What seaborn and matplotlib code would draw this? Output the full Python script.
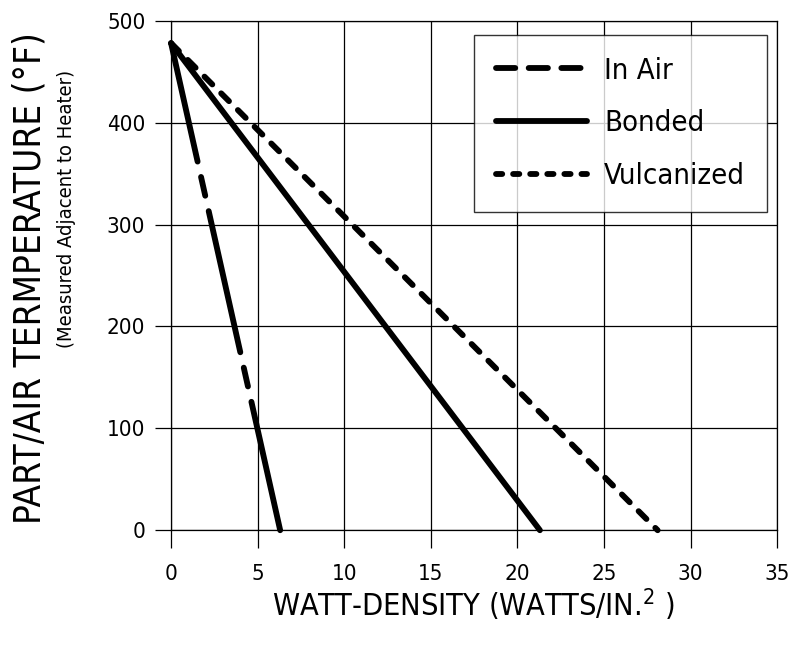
import pandas as pd
import seaborn as sns
import matplotlib.pyplot as plt

# data
series = ["In Air", "Bonded", "Vulcanized"]
start_temp = [478, 478, 478]
zero_watt = [6.3, 21.3, 28.1]
x_ticks = [0, 5, 10, 15, 20, 25, 30, 35]
y_ticks = [0, 100, 200, 300, 400, 500]

rows = []
for name, t0, w in zip(series, start_temp, zero_watt):
    rows.append({"series": name, "watt": 0, "temp": t0})
    rows.append({"series": name, "watt": w, "temp": 0})
df = pd.DataFrame(rows)

sns.set_style("white")
plt.rcParams['font.family'] = ['DejaVu Sans']
plt.rcParams['font.stretch'] = 'condensed'
plt.rcParams['text.color'] = 'black'
plt.rcParams['axes.labelcolor'] = 'black'
plt.rcParams['xtick.color'] = 'black'
plt.rcParams['ytick.color'] = 'black'

fig = plt.figure(figsize=(8.07, 6.49), dpi=100)
ax = fig.add_axes([0.212, 0.183, 0.751, 0.785])

LW = 4.2
dash_map = {"In Air": (24.8, 2.7, 3.3, 2.7), "Bonded": "", "Vulcanized": (1.9, 2.15)}
sns.lineplot(data=df, x="watt", y="temp", hue="series", style="series",
             palette=["black"] * 3, dashes=dash_map, linewidth=LW,
             ax=ax, legend=True)
for ln in ax.get_lines():
    ln.set_dash_capstyle("round")
    ln.set_solid_capstyle("round")
    ln.set_clip_on(False)
ax.get_lines()[0].set_linestyle((4, (24.8, 2.7, 3.3, 2.7)))

ax.set_xlim(0, 35)
ax.set_ylim(0, 500)
ax.set_xticks(x_ticks)
ax.set_yticks(y_ticks)
ax.grid(True, color="black", linewidth=0.9)
# grid lines on the edges get half clipped, so draw the frame as spines
for s in ax.spines.values():
    s.set_visible(True)
    s.set_color("black")
    s.set_linewidth(0.9)
ax.set_axisbelow(True)
ax.tick_params(axis="both", bottom=True, left=True, width=0.9,
               color="black", labelcolor="black", labelsize=16, direction="out")
ax.tick_params(axis="x", length=13, pad=11)
ax.tick_params(axis="y", length=11.5, pad=7)

ax.set_xlabel("")
ax.set_ylabel("")
fig.text(0.586, 0.068, "WATT-DENSITY (WATTS/IN.$^{\\mathregular{2}}$ )", fontsize=22,
         ha="center", va="center")
fig.text(0.037, 0.572, "PART/AIR TERMPERATURE (°F)", rotation=90,
         fontsize=26.5, ha="center", va="center")
fig.text(0.083, 0.678, "(Measured Adjacent to Heater)", rotation=90,
         fontsize=14.5, ha="center", va="center")

handles, labels = ax.get_legend_handles_labels()
leg = ax.legend(handles, labels, loc="upper right", bbox_to_anchor=(0.9835, 0.9725),
                borderaxespad=0, fontsize=21, frameon=True, fancybox=False,
                handlelength=3.1, handletextpad=0.6, labelspacing=0.85, borderpad=0.75)
leg.get_frame().set_edgecolor("black")
leg.get_frame().set_linewidth(1.0)
leg_dashes = {"In Air": (3.3, 2.3), "Vulcanized": (1.07, 1.86)}
for ln, lab in zip(leg.get_lines(), labels):
    ln.set_linewidth(LW)
    ln.set_dash_capstyle("round")
    ln.set_solid_capstyle("round")
    if lab in leg_dashes:
        ln.set_linestyle((0, leg_dashes[lab]))

fig.savefig("out.png", dpi=100)
